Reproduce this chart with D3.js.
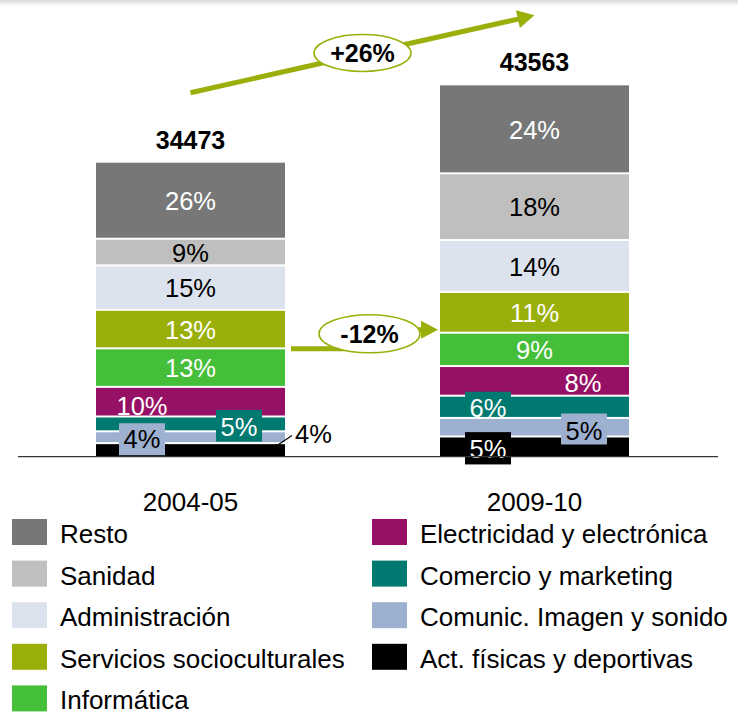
<!DOCTYPE html>
<html><head><meta charset="utf-8">
<script src="https://cdn.jsdelivr.net/npm/d3@7"></script>
<style>
body{margin:0;background:#fff}
svg{display:block}
text{font-family:"Liberation Sans",Arial,Helvetica,sans-serif}
</style>
</head><body>
<svg id="chart" width="738" height="716"></svg>
<script>
// ---------- data ----------
const years = ["2004-05", "2009-10"];
const totals = [34473, 43563];
const categories = ["Act. físicas y deportivas", "Comunic. Imagen y sonido", "Comercio y marketing",
  "Electricidad y electrónica", "Informática", "Servicios socioculturales", "Administración", "Sanidad", "Resto"];
const pct2004 = [4, 4, 5, 10, 13, 13, 15, 9, 26];
const pct2009 = [5, 5, 6, 8, 9, 11, 14, 18, 24];
const growthTotal = "+26%";
const growthServicios = "-12%";
const legendLeft = ["Resto", "Sanidad", "Administración", "Servicios socioculturales", "Informática"];
const legendRight = ["Electricidad y electrónica", "Comercio y marketing", "Comunic. Imagen y sonido", "Act. físicas y deportivas"];

// ---------- style ----------
const colors = ["#000000", "#9DB0CF", "#007A70", "#961065", "#45BE3A", "#9BAF0B", "#DCE3EE", "#BFBFBF", "#777777"];
const labelInk = ["#fff", "#000", "#fff", "#fff", "#fff", "#fff", "#000", "#000", "#fff"];
const arrowColor = "#9BAF0B";
const FS = 25.5;

const svg = d3.select("#chart");

// top shading
const defs = svg.append("defs");
const g0 = defs.append("linearGradient").attr("id", "topShade").attr("x1", 0).attr("x2", 0).attr("y1", 0).attr("y2", 1);
g0.append("stop").attr("offset", "0%").attr("stop-color", "#d9d9d9");
g0.append("stop").attr("offset", "100%").attr("stop-color", "#ffffff");
svg.append("rect").attr("x", 0).attr("y", 0).attr("width", 738).attr("height", 6).attr("fill", "url(#topShade)");

// scales
const x = d3.scaleBand().domain(years).range([96, 629]).paddingInner(155 / 344).paddingOuter(0);
const y = d3.scaleLinear().domain([0, 50000]).range([456, 30.6]);

const pcts = [pct2004, pct2009];
const rows = years.map((yr, i) => {
  const s = d3.sum(pcts[i]);
  const o = { year: yr };
  categories.forEach((c, k) => { o[c] = totals[i] * pcts[i][k] / s; });
  return o;
});
const series = d3.stack().keys(categories)(rows);

const GAP = 2;
const bars = svg.append("g");
series.forEach((ser, k) => {
  bars.selectAll(null).data(ser).enter().append("rect")
    .attr("x", d => x(d.data.year))
    .attr("width", x.bandwidth())
    .attr("y", d => y(d[1]))
    .attr("height", d => Math.max(0, y(d[0]) - y(d[1]) - (d[0] > 0 ? GAP : 0)))
    .attr("fill", colors[k]);
});

// ---------- segment labels ----------
const special = {
  "0-0": { outside: true },
  "0-1": { dx: -48.5, dy: 9.3, box: true, bt: -24.3, bb: 7.7 },
  "0-2": { dx: 48.5, dy: 11, box: true, bt: -26, bb: 5.7 },
  "0-3": { dx: -48.5, dy: 12, box: false },
  "1-0": { dx: -46.5, dy: 11, box: true, bt: -25.6, bb: 6.7 },
  "1-1": { dx: 49.5, dy: 12, box: true, bt: -26.7, bb: 4.3 },
  "1-2": { dx: -46.5, dy: 9.2, box: true, bt: -25.3, bb: -1.3 },
  "1-3": { dx: 48.5, dy: 10, box: false }
};
const labels = svg.append("g").attr("font-size", FS);
series.forEach((ser, k) => {
  ser.forEach((d, i) => {
    const cx = x(d.data.year) + x.bandwidth() / 2;
    const cy = (y(d[0]) + y(d[1])) / 2;
    const txt = pcts[i][k] + "%";
    const sp = special[i + "-" + k];
    if (sp && sp.outside) {
      const right = x(d.data.year) + x.bandwidth();
      labels.append("line").attr("x1", right - 8).attr("y1", cy - 4.6).attr("x2", right + 7).attr("y2", cy - 14.6)
        .attr("stroke", "#000").attr("stroke-width", 1.2);
      labels.append("text").attr("x", right + 10).attr("y", cy - 7).attr("fill", "#000").text(txt);
      return;
    }
    const dx = sp ? sp.dx : 0;
    const dy = sp ? sp.dy : 8.8;
    if (sp && sp.box) {
      labels.append("rect").attr("x", cx + dx - 23).attr("width", 46)
        .attr("y", cy + dy + sp.bt).attr("height", sp.bb - sp.bt).attr("fill", colors[k]);
    }
    labels.append("text").attr("x", cx + dx).attr("y", cy + dy)
      .attr("text-anchor", "middle").attr("fill", labelInk[k]).text(txt);
  });
});

// totals
svg.append("g").selectAll("text").data(years).enter().append("text")
  .attr("x", d => x(d) + x.bandwidth() / 2)
  .attr("y", (d, i) => y(totals[i]) - 14)
  .attr("text-anchor", "middle").attr("font-size", 25).attr("font-weight", "bold").attr("fill", "#000")
  .text((d, i) => totals[i]);

// baseline and year axis
svg.append("line").attr("x1", 18).attr("x2", 718).attr("y1", 456.6).attr("y2", 456.6)
  .attr("stroke", "#333").attr("stroke-width", 1.4);
const axis = svg.append("g").attr("transform", "translate(0,456)")
  .call(d3.axisBottom(x).tickSize(0).tickPadding(37));
axis.select(".domain").remove();
axis.selectAll("text").attr("font-size", 26).attr("fill", "#000")
  .style("font-family", "\"Liberation Sans\",Arial,sans-serif");

// ---------- arrows ----------
function head(g, tx, ty, ang) {
  const L = 17, W = 9;
  const ca = Math.cos(ang), sa = Math.sin(ang);
  const bx = tx - L * ca, by = ty - L * sa;
  g.append("path").attr("d",
    `M${tx},${ty}L${bx - W * sa},${by + W * ca}L${bx + W * sa},${by - W * ca}Z`).attr("fill", arrowColor);
  return [bx, by];
}
const ann = svg.append("g");
{
  const x1 = x(years[0]) + x.bandwidth() / 2, y1 = y(totals[0]) - 70;
  const x2 = x(years[1]) + x.bandwidth() / 2, y2 = y(totals[1]) - 70;
  const ang = Math.atan2(y2 - y1, x2 - x1);
  const [bx, by] = head(ann, x2, y2, ang);
  ann.append("line").attr("x1", x1).attr("y1", y1).attr("x2", bx + Math.cos(ang)).attr("y2", by + Math.sin(ang))
    .attr("stroke", arrowColor).attr("stroke-width", 5);
  const mx = (x1 + x2) / 2, my = (y1 + y2) / 2 - 1;
  ann.append("ellipse").attr("cx", mx).attr("cy", my).attr("rx", 48.5).attr("ry", 18.5)
    .attr("fill", "#fff").attr("stroke", arrowColor).attr("stroke-width", 1.6);
  ann.append("text").attr("x", mx).attr("y", my + 9).attr("text-anchor", "middle")
    .attr("font-size", 25).attr("font-weight", "bold").text(growthTotal);
}
{
  const sIdx = categories.indexOf("Servicios socioculturales");
  const s0 = series[sIdx][0], s1 = series[sIdx][1];
  const xa = x(years[0]) + x.bandwidth() + 6, ya = y(s0[0]) - 0.5;
  const xb = x(years[1]) - 2, yb = y(s1[0]) - 4;
  const mx = (xa + xb) / 2 + 5;
  const [bx] = head(ann, xb, yb, 0);
  ann.append("path").attr("d", `M${xa},${ya}H${mx}V${yb}H${bx + 1}`)
    .attr("fill", "none").attr("stroke", arrowColor).attr("stroke-width", 5);
  const ey = (ya + yb) / 2 - 5.5;
  ann.append("ellipse").attr("cx", mx).attr("cy", ey).attr("rx", 50.5).attr("ry", 19)
    .attr("fill", "#fff").attr("stroke", arrowColor).attr("stroke-width", 1.6);
  ann.append("text").attr("x", mx).attr("y", ey + 9.5).attr("text-anchor", "middle")
    .attr("font-size", 25).attr("font-weight", "bold").text(growthServicios);
}

// ---------- legend ----------
const leg = svg.append("g").attr("font-size", 26);
function legendCol(items, x0) {
  items.forEach((name, i) => {
    const k = categories.indexOf(name);
    const top = 519 + i * 41.6;
    leg.append("rect").attr("x", x0).attr("y", top).attr("width", 35).attr("height", 26).attr("fill", colors[k]);
    leg.append("text").attr("x", x0 + 48).attr("y", top + 24).attr("fill", "#000").text(name);
  });
}
legendCol(legendLeft, 12);
legendCol(legendRight, 372);
</script>
</body></html>
